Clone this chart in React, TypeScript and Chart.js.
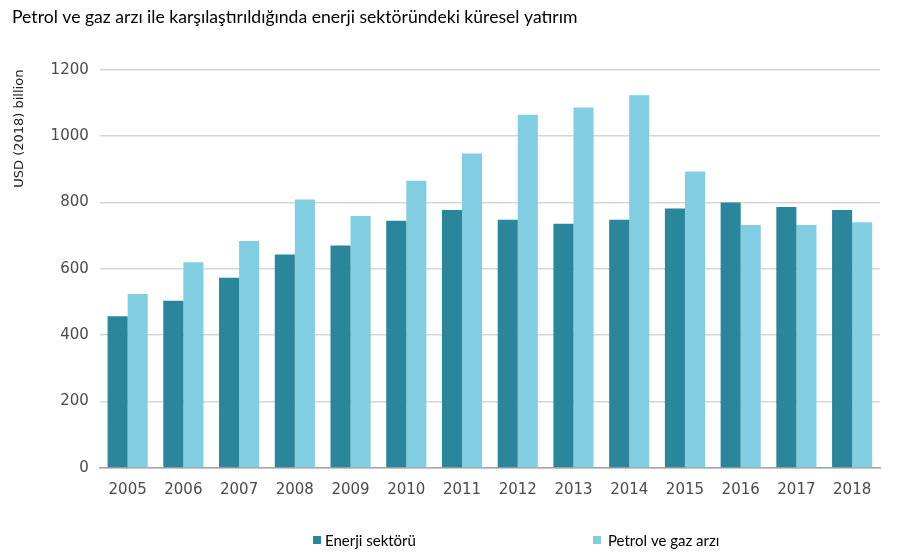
import React, { useEffect, useRef } from "react";
import { Chart, registerables } from "chart.js";

Chart.register(...registerables);

const years = ["2005", "2006", "2007", "2008", "2009", "2010", "2011", "2012", "2013", "2014", "2015", "2016", "2017", "2018"];
const energySector = [457, 504, 573, 643, 670, 745, 777, 748, 736, 748, 782, 800, 786, 777];
const oilGasSupply = [524, 620, 684, 809, 759, 865, 947, 1064, 1086, 1123, 893, 732, 732, 740];
const seriesNames = ["Enerji sektörü", "Petrol ve gaz arzı"];
const chartTitle = "Petrol ve gaz arzı ile karşılaştırıldığında enerji sektöründeki küresel yatırım";
const yAxisTitle = "USD (2018) billion";
const yMin = 0;
const yMax = 1200;
const yStep = 200;

const DARK = "#29869B";
const LIGHT = "#81CDE1";

const legendPlugin = {
  id: "customLegend",
  afterDraw(chart: any) {
    const ctx = chart.ctx;
    const xs = [313, 593];
    const y = 540;
    ctx.save();
    chart.data.datasets.forEach((ds: any, i: number) => {
      const x = xs[i];
      ctx.fillStyle = ds.backgroundColor;
      ctx.fillRect(x, y - 4, 8, 8);
      ctx.fillStyle = "#000";
      ctx.font = "15px Lato, 'Open Sans', sans-serif";
      ctx.textBaseline = "middle";
      ctx.textAlign = "left";
      ctx.fillText(ds.label, x + (i === 0 ? 12 : 15), y + 1);
    });
    ctx.restore();
  },
};

export default function App() {
  const ref = useRef<HTMLCanvasElement | null>(null);

  useEffect(() => {
    document.body.style.margin = "0";
    const canvas = ref.current;
    if (!canvas) return;
    const chart = new Chart(canvas, {
      type: "bar",
      data: {
        labels: years,
        datasets: [
          { label: seriesNames[0], data: energySector, backgroundColor: DARK, categoryPercentage: 0.72, barPercentage: 1.0 },
          { label: seriesNames[1], data: oilGasSupply, backgroundColor: LIGHT, categoryPercentage: 0.72, barPercentage: 1.0 },
        ],
      },
      options: {
        responsive: false,
        animation: false,
        devicePixelRatio: 1,
        layout: { padding: { left: 12, right: 23, top: 0, bottom: 47 } },
        plugins: {
          legend: { display: false },
          tooltip: { enabled: false },
          title: {
            display: true,
            text: chartTitle,
            align: "start",
            color: "#000",
            font: { family: "Lato, 'Open Sans', sans-serif", size: 17.6, weight: "normal" },
            padding: { top: 7, bottom: 41.5 },
          },
        },
        scales: {
          x: {
            grid: { display: false, drawTicks: false },
            border: { display: true, color: "#a6a6a6", width: 1.5 },
            ticks: { color: "#4a4a4a", padding: 13, font: { family: "'DejaVu Sans', sans-serif", size: 15 } },
          },
          y: {
            min: yMin,
            max: yMax,
            grid: { color: "#d6d6d6", lineWidth: 1.5, drawTicks: false },
            border: { display: false },
            ticks: {
              stepSize: yStep,
              color: "#4a4a4a",
              padding: 11,
              font: { family: "'DejaVu Sans', sans-serif", size: 15 },
              callback: (v: any) => String(v),
            },
            title: {
              display: true,
              text: yAxisTitle,
              align: "end",
              color: "#222",
              font: { family: "'DejaVu Sans', sans-serif", size: 13 },
              padding: { top: 0, bottom: 12 },
            },
          },
        },
      },
      plugins: [legendPlugin],
    });
    return () => chart.destroy();
  }, []);

  return <canvas ref={ref} width={903} height={559} style={{ display: "block" }} />;
}
